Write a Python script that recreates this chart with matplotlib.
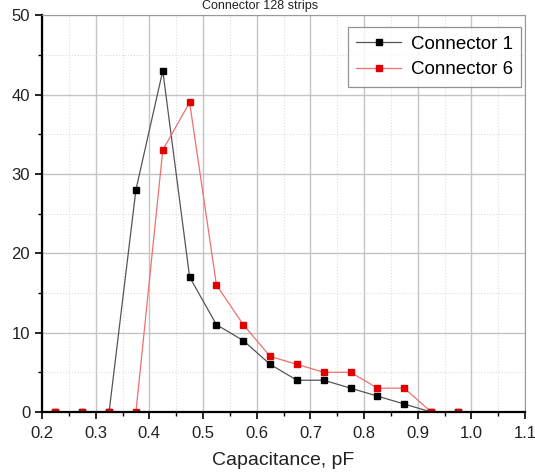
import matplotlib.pyplot as plt
from matplotlib.ticker import MultipleLocator

plt.rcParams['font.family'] = ['Liberation Sans', 'DejaVu Sans']

x = [0.225, 0.275, 0.325, 0.375, 0.425, 0.475, 0.525, 0.575, 0.625,
     0.675, 0.725, 0.775, 0.825, 0.875, 0.925, 0.975]
conn1 = [0, 0, 0, 28, 43, 17, 11, 9, 6, 4, 4, 3, 2, 1, 0, 0]
conn6 = [0, 0, 0, 0, 33, 39, 16, 11, 7, 6, 5, 5, 3, 3, 0, 0]

fig = plt.figure(figsize=(5.35, 4.73), dpi=100)
ax = fig.add_axes([0.0785, 0.129, 0.903, 0.839])

ax.plot(x, conn1, color='#555555', lw=0.9, marker='s', ms=4.5,
        mfc='black', mec='black', label='Connector 1')
ax.plot(x, conn6, color='#ee7070', lw=0.9, marker='s', ms=4.5,
        mfc='#e00000', mec='#e00000', label='Connector 6')

ax.set_xlim(0.2, 1.1)
ax.set_ylim(0, 50)
ax.xaxis.set_minor_locator(MultipleLocator(0.05))
ax.yaxis.set_major_locator(MultipleLocator(10))
ax.yaxis.set_minor_locator(MultipleLocator(5))
ax.set_xticks([0.2, 0.3, 0.4, 0.5, 0.6, 0.7, 0.8, 0.9, 1.0, 1.1])
ax.set_xticklabels(['0.2', '0.3', '0.4', '0.5', '0.6', '0.7', '0.8', '0.9', '1.0', '1.1'])

ax.grid(which='major', color='#c4c4c4', lw=1.0)
ax.grid(which='minor', color='#dddddd', lw=0.8, ls=':')
ax.set_axisbelow(True)

ax.tick_params(which='major', direction='out', length=5, width=1.2,
               labelsize=12, labelcolor='#222222')
ax.tick_params(which='minor', direction='out', length=3, width=1.0)
ax.tick_params(axis='x', pad=5)
for s in ['left', 'bottom']:
    ax.spines[s].set_linewidth(1.6)
for s in ['top', 'right']:
    ax.spines[s].set_linewidth(0.8)
    ax.spines[s].set_color('#999999')

ax.set_xlabel('Capacitance, pF', fontsize=14, labelpad=8, color='#222222')
ax.set_ylabel('Entries', fontsize=14, color='#222222')
ax.yaxis.set_label_coords(-0.1, 0.5)
fig.text(0.486, 0.988, 'Connector 128 strips', fontsize=9,
         ha='center', va='center', color='#222222')

leg = ax.legend(loc='upper right', fontsize=13.5, frameon=True, fancybox=False,
                edgecolor='#777777', handlelength=2.4, borderpad=0.45,
                labelspacing=0.45, handletextpad=0.5, borderaxespad=0,
                bbox_to_anchor=(0.992, 0.97))
leg.get_frame().set_linewidth(0.9)

fig.savefig('out.png', dpi=100)
